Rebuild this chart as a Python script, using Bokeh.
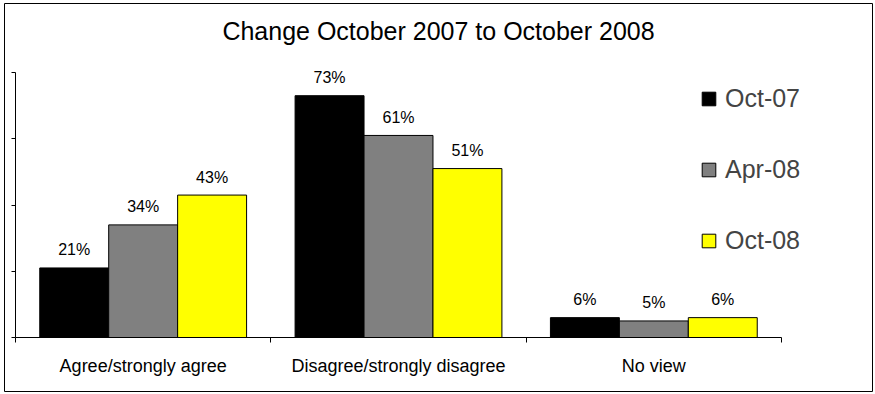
from bokeh.plotting import figure
from bokeh.models import (Range1d, FixedTicker, Legend, LegendItem, Label,
                          ColumnDataSource)
from bokeh.core.properties import value
from bokeh.embed import file_html
from bokeh.resources import INLINE

categories = ["Agree/strongly agree", "Disagree/strongly disagree", "No view"]
series = ["Oct-07", "Apr-08", "Oct-08"]
oct07 = [21, 73, 6]
apr08 = [34, 61, 5]
oct08 = [43, 51, 6]
colors = ["#000000", "#808080", "#FFFF00"]
title_text = "Change October 2007 to October 2008"
y_ticks = [0, 20, 40, 60, 80]

FONT = "Liberation Sans"
bar_w = 0.27
offsets = [-0.27, 0.0, 0.27]

# frame = chart border; the view ranges leave room around the axes
p = figure(frame_width=868, frame_height=388,
           x_range=Range1d(-0.0431, 3.3564), y_range=Range1d(-16.30, 100.83),
           output_backend="svg", toolbar_location=None,
           min_border_left=4, min_border_right=3,
           min_border_top=3, min_border_bottom=3,
           background_fill_color="white", border_fill_color="white")
p.outline_line_color = "black"
p.outline_line_width = 1
p.xgrid.visible = False
p.ygrid.visible = False

renderers = []
for j, (name, vals) in enumerate(zip(series, [oct07, apr08, oct08])):
    xs = [i + 0.5 + offsets[j] for i in range(len(categories))]
    src = ColumnDataSource(dict(x=xs, top=vals,
                                lab=[f"{v}%" for v in vals]))
    r = p.vbar(x="x", top="top", width=bar_w, bottom=0, source=src,
               fill_color=colors[j], line_color="black", line_width=1)
    renderers.append(r)
    p.text(x="x", y="top", text="lab", source=src,
           text_font=value(FONT), text_font_size="16px",
           text_align="center", text_baseline="alphabetic",
           y_offset=-18, text_color="black")

# x axis: labels at category centres, ticks at category boundaries
xa = p.xaxis[0]
xa.fixed_location = 0
xa.bounds = (0, len(categories))
xa.ticker = FixedTicker(ticks=[i + 0.5 for i in range(len(categories))],
                        minor_ticks=list(range(len(categories) + 1)))
xa.major_label_overrides = {i + 0.5: c for i, c in enumerate(categories)}
xa.major_tick_line_color = None
xa.major_tick_out = 0
xa.major_tick_in = 0
xa.minor_tick_out = 5
xa.minor_tick_in = 0
xa.minor_tick_line_color = "black"
xa.axis_line_color = "black"
xa.major_label_text_font = FONT
xa.major_label_text_font_size = "18px"
xa.major_label_text_color = "black"
xa.major_label_standoff = 13

ya = p.yaxis[0]
ya.fixed_location = 0
ya.bounds = (y_ticks[0], y_ticks[-1])
ya.ticker = FixedTicker(ticks=y_ticks, minor_ticks=[])
ya.major_label_overrides = {t: "" for t in y_ticks}
ya.major_label_standoff = 0
ya.major_tick_out = 4
ya.major_tick_in = 0
ya.major_tick_line_color = "black"
ya.axis_line_color = "black"

title = Label(x=434, y=361, x_units="screen", y_units="screen",
              text=title_text, text_align="center", text_baseline="alphabetic",
              text_font=FONT, text_font_size="25px", text_color="black")
p.add_layout(title)

legend = Legend(items=[LegendItem(label=s, renderers=[r]) for s, r in zip(series, renderers)],
                location=(696, 136), padding=0, margin=0, spacing=42,
                glyph_width=17, glyph_height=17, label_standoff=8,
                label_text_font=FONT, label_text_font_size="25px",
                border_line_color=None, background_fill_alpha=0)
p.add_layout(legend)

open("out.html", "w").write(file_html(p, INLINE))
